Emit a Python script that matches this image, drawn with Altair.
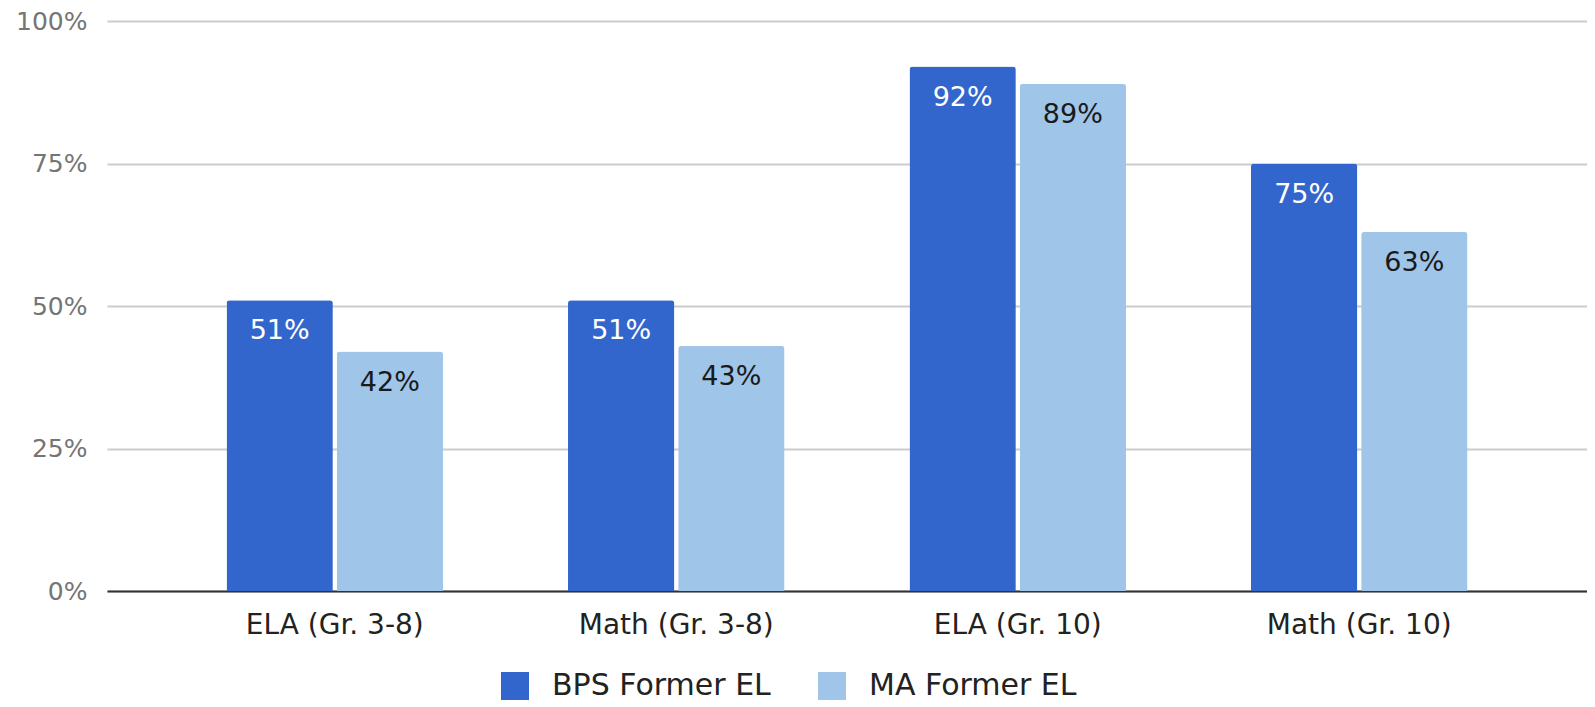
import altair as alt
import pandas as pd

categories = ["ELA (Gr. 3-8)", "Math (Gr. 3-8)", "ELA (Gr. 10)", "Math (Gr. 10)"]
series_names = ["BPS Former EL", "MA Former EL"]
bps_values = [51, 51, 92, 75]
ma_values = [42, 43, 89, 63]
y_ticks = [0, 25, 50, 75, 100]
colors = ["#3366CC", "#9FC5E8"]

rows = []
for c, b, m in zip(categories, bps_values, ma_values):
    rows.append({"category": c, "series": series_names[0], "value": b})
    rows.append({"category": c, "series": series_names[1], "value": m})
df = pd.DataFrame(rows)

FONT = "DejaVu Sans"

x = alt.X("category:N", sort=categories, title=None,
          scale=alt.Scale(paddingInner=0.366, paddingOuter=0.35),
          axis=alt.Axis(labelAngle=0, ticks=False, labelPadding=20, labelLimit=0,
                        labelFontSize=28, labelColor="#222222", labelFont=FONT,
                        domainColor="#333333", domainWidth=2, grid=False))
xo = alt.XOffset("series:N", sort=series_names,
                 scale=alt.Scale(paddingInner=0.035, paddingOuter=0))
y = alt.Y("value:Q", title=None,
          scale=alt.Scale(domain=[0, 100], nice=False),
          axis=alt.Axis(values=y_ticks, labelExpr="datum.value + '%'",
                        ticks=False, domain=False, labelPadding=20, labelLimit=0,
                        labelFontSize=25, labelColor="#757575", labelFont=FONT,
                        gridColor="#cccccc", gridWidth=2))

bars = alt.Chart(df).mark_bar(cornerRadiusTopLeft=3, cornerRadiusTopRight=3).encode(
    x=x, xOffset=xo, y=y,
    color=alt.Color("series:N", sort=series_names,
                    scale=alt.Scale(domain=series_names, range=colors),
                    legend=alt.Legend(title=None, orient="none", direction="horizontal",
                                      legendX=393, legendY=650, labelLimit=0,
                                      symbolType="square", symbolSize=784,
                                      symbolStrokeWidth=0, labelFontSize=30,
                                      labelFont=FONT, labelColor="#222222",
                                      labelOffset=22, columnPadding=46)),
)

labels = alt.Chart(df).transform_calculate(
    label="format(datum.value, 'd') + '%'"
).mark_text(baseline="middle", dy=31, fontSize=27, font=FONT).encode(
    x=x, xOffset=xo, y=y,
    text="label:N",
    color=alt.condition(alt.datum.series == series_names[0],
                        alt.value("white"), alt.value("#1a1a1a")),
)

chart = alt.layer(bars, labels).properties(
    width=1480, height=570,
    autosize=alt.AutoSizeParams(type="none"),
    padding={"left": 99, "top": 13, "right": 0, "bottom": 116},
).configure_view(stroke=None)

chart.save("out.html", embed_options={"renderer": "svg", "actions": False})
